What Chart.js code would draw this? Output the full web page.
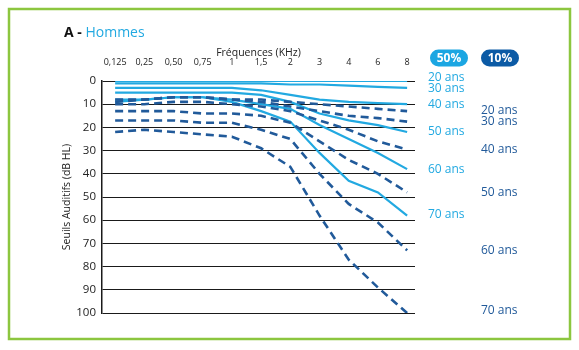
<!DOCTYPE html>
<html>
<head>
<meta charset="utf-8">
<script src="https://cdn.jsdelivr.net/npm/chart.js@4.4.1/dist/chart.umd.min.js"></script>
<style>
	body { margin: 0; background: #fff; }
</style>
</head>
<body>
<canvas id="audio-chart" width="579" height="350"></canvas>
<script>
const freqs = ['0,125', '0,25', '0,50', '0,75', '1', '1,5', '2', '3', '4', '6', '8'];
const ages = ['20 ans', '30 ans', '40 ans', '50 ans', '60 ans', '70 ans'];
const yTicks = [0, 10, 20, 30, 40, 50, 60, 70, 80, 90, 100];

// 50% (solid lines)
const p50_20 = [0, 0, 0, 0, 0, 0, 0, 0, 0, 0, 0];
const p50_30 = [1, 1, 1, 1, 1, 1, 1.5, 1.5, 2, 2.5, 3];
const p50_40 = [3, 3, 3, 3, 3, 4, 6, 8, 9, 9.5, 10];
const p50_50 = [5, 5, 5, 5, 5, 6, 9, 14, 17, 19, 22];
const p50_60 = [8, 8, 7, 7, 8, 10, 12, 19, 25, 31, 38];
const p50_70 = [9, 8, 7, 7, 9, 13, 17.5, 31, 43, 48, 58];

// 10% (dashed lines)
const p10_20 = [8, 8, 7, 7, 8, 8, 9, 10, 11, 12, 13];
const p10_30 = [9, 8, 7, 7, 8, 9, 11, 13, 15, 16, 17.5];
const p10_40 = [10, 10, 9, 9, 10, 11, 13, 17, 21, 26, 29.5];
const p10_50 = [13, 13, 13, 14, 14, 15, 18, 26, 34, 40, 48];
const p10_60 = [17, 17, 17, 18, 18, 21, 25, 40, 53, 61, 73];
const p10_70 = [22, 21, 22, 23, 24, 29, 37, 58, 77, 89, 100];

const light = '#22a9e1';
const dark = '#215a9a';
const series50 = [p50_20, p50_30, p50_40, p50_50, p50_60, p50_70];
const series10 = [p10_20, p10_30, p10_40, p10_50, p10_60, p10_70];

const toPoints = arr => arr.map((v, i) => ({ x: i, y: v }));

const datasets = [];
series10.forEach((s, i) => {
	datasets.push({
		label: '10% ' + ages[i],
		data: toPoints(s),
		borderColor: dark,
		borderWidth: 2.6,
		borderDash: [8, 5],
		pointRadius: 0,
		tension: 0
	});
});
series50.forEach((s, i) => {
	datasets.push({
		label: '50% ' + ages[i],
		data: toPoints(s),
		borderColor: light,
		borderWidth: 2.2,
		pointRadius: 0,
		tension: 0
	});
});

function pill(ctx, cx, cy, w, h, color, text) {
	ctx.fillStyle = color;
	ctx.beginPath();
	ctx.roundRect(cx - w / 2, cy - h / 2, w, h, h / 2);
	ctx.fill();
	ctx.fillStyle = '#fff';
	ctx.font = 'bold 12px "Open Sans", sans-serif';
	ctx.textAlign = 'center';
	ctx.textBaseline = 'middle';
	ctx.fillText(text, cx, cy + 0.5);
}

const decor = {
	id: 'decor',
	beforeDraw(chart) {
		const ctx = chart.ctx;
		ctx.save();
		ctx.fillStyle = '#fff';
		ctx.fillRect(0, 0, chart.width, chart.height);
		ctx.strokeStyle = '#8cc63f';
		ctx.lineWidth = 2.5;
		ctx.strokeRect(9, 9, 561, 330);
		ctx.restore();
	},
	afterDraw(chart) {
		const ctx = chart.ctx;
		const y = chart.scales.y;
		ctx.save();
		// title
		ctx.textBaseline = 'alphabetic';
		ctx.textAlign = 'left';
		ctx.fillStyle = '#111';
		ctx.font = 'bold 14px "Open Sans", sans-serif';
		ctx.fillText('A -', 64, 37);
		const w = ctx.measureText('A - ').width;
		ctx.fillStyle = light;
		ctx.font = '14px "Open Sans", sans-serif';
		ctx.fillText('Hommes', 64 + w, 37);

		pill(ctx, 449, 58, 38, 17, '#1ba6e2', '50%');
		pill(ctx, 500, 58, 38, 17, '#0b5aa5', '10%');

		ctx.font = '12px "Open Sans", sans-serif';
		ctx.textBaseline = 'middle';
		ctx.textAlign = 'left';
		const off50 = [-3, 1, 0, 0, 0, -1];
		const off10 = [-1, 0, 0, 0, 0, -2];
		series50.forEach((s, i) => {
			ctx.fillStyle = light;
			ctx.fillText(ages[i], 428, y.getPixelForValue(s[s.length - 1]) + off50[i]);
		});
		series10.forEach((s, i) => {
			ctx.fillStyle = dark;
			ctx.fillText(ages[i], 481, y.getPixelForValue(s[s.length - 1]) + off10[i]);
		});
		ctx.restore();
	}
};

new Chart(document.querySelector('#audio-chart'), {
	type: 'line',
	data: { datasets: datasets },
	options: {
		responsive: false,
		animation: false,
		layout: {
			padding: { left: 58, top: 45, right: 164, bottom: 37 }
		},
		plugins: {
			legend: { display: false },
			tooltip: { enabled: false }
		},
		scales: {
			x: {
				type: 'linear',
				position: 'top',
				min: -0.45,
				max: 10.27,
				afterBuildTicks: scale => {
					scale.ticks = freqs.map((f, i) => ({ value: i }));
				},
				afterFit: scale => { scale.height = 36; },
				grid: { display: false },
				border: { display: false },
				ticks: {
					callback: v => freqs[v],
					color: '#222',
					font: { size: 9, family: '"Open Sans", sans-serif' },
					padding: 5,
					maxRotation: 0,
					autoSkip: false
				},
				title: {
					display: true,
					text: 'Fréquences (KHz)',
					color: '#222',
					font: { size: 10.5, family: '"Open Sans", sans-serif' },
					padding: { top: 2, bottom: 0 }
				}
			},
			y: {
				reverse: true,
				min: 0,
				max: 100,
				afterBuildTicks: scale => {
					scale.ticks = yTicks.map(v => ({ value: v }));
				},
				afterFit: scale => { scale.width = 44; },
				grid: { color: '#1a1a1a', lineWidth: 1, drawTicks: false },
				border: { display: true, color: '#1a1a1a', width: 1.5 },
				ticks: {
					color: '#222',
					font: { size: 11.5, family: '"Open Sans", sans-serif' },
					padding: 6
				},
				title: {
					display: true,
					text: 'Seuils Auditifs (dB HL)',
					color: '#222',
					font: { size: 10.5, family: '"Open Sans", sans-serif' },
					padding: { top: 3, bottom: 0 }
				}
			}
		}
	},
	plugins: [decor]
});
</script>
</body>
</html>
